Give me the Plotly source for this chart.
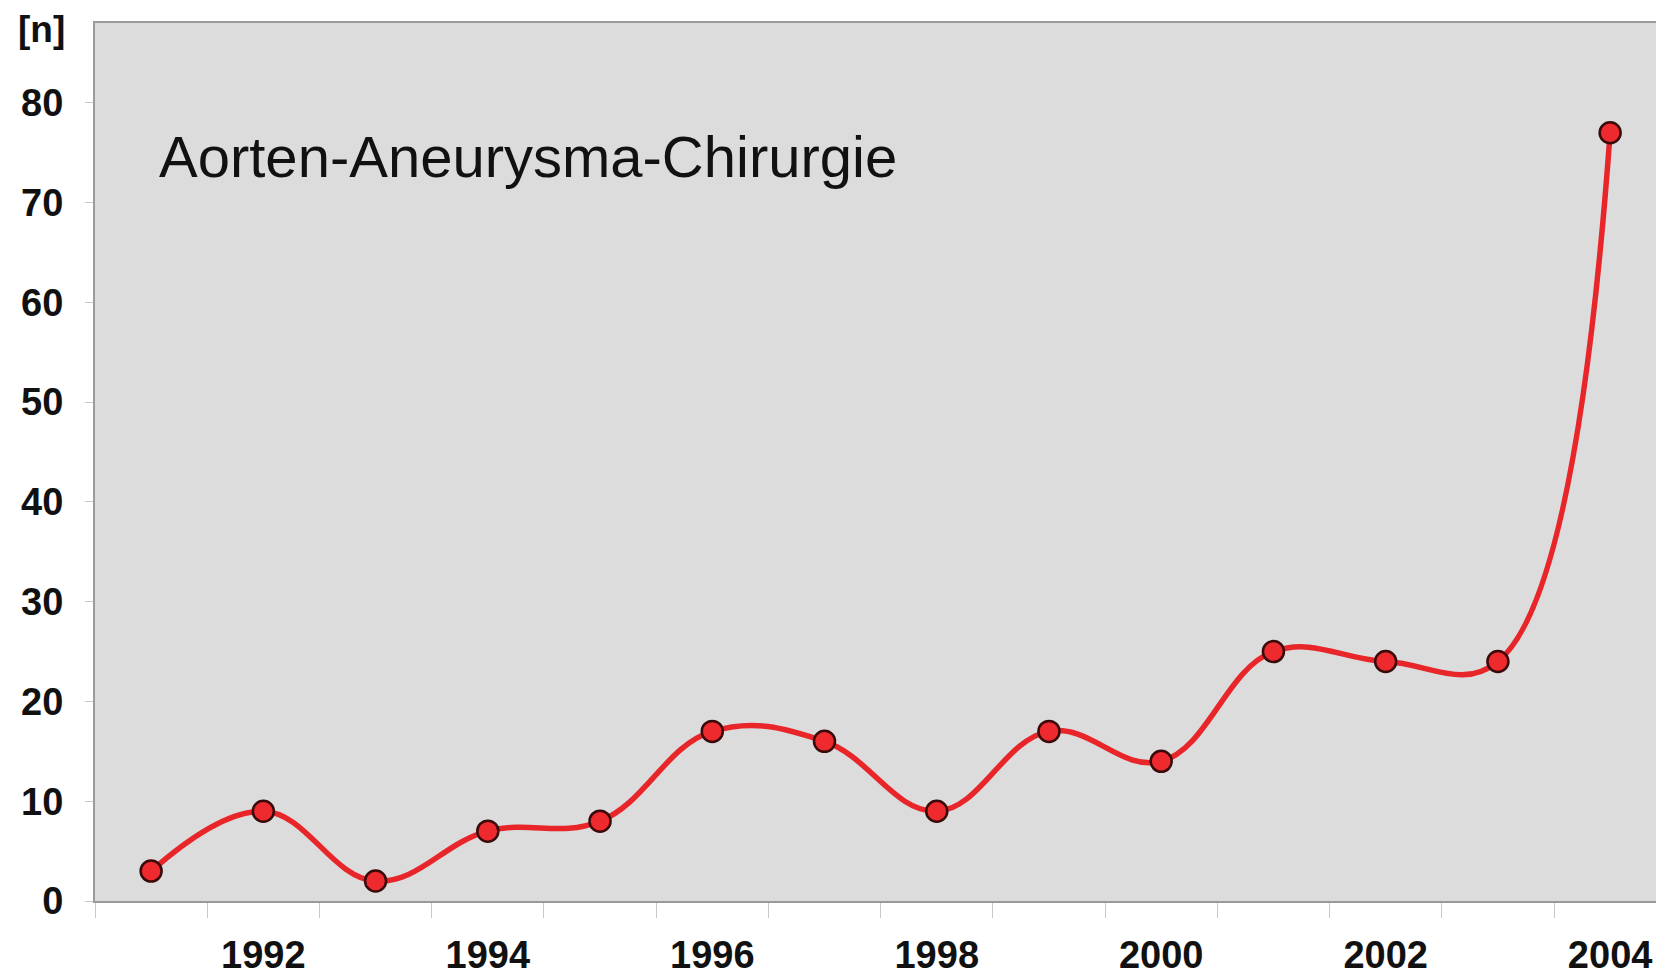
import plotly.graph_objects as go

years = [1991, 1992, 1993, 1994, 1995, 1996, 1997, 1998, 1999, 2000, 2001, 2002, 2003, 2004]
counts = [3, 9, 2, 7, 8, 17, 16, 9, 17, 14, 25, 24, 24, 77]
label_years = [1992, 1994, 1996, 1998, 2000, 2002, 2004]
y_ticks = [0, 10, 20, 30, 40, 50, 60, 70, 80]
title_text = "Aorten-Aneurysma-Chirurgie"
y_unit = "[n]"

FONT = "Liberation Sans, Arial, sans-serif"

fig = go.Figure()
fig.add_trace(go.Scatter(
    x=years, y=counts, mode="lines+markers",
    line=dict(color="#e8262a", width=5.5, shape="spline", smoothing=1.15),
    marker=dict(size=21, color="#ee2a2e", line=dict(color="#3a0a0a", width=2.5)),
    showlegend=False, cliponaxis=False,
))

fig.update_layout(
    width=1656, height=968,
    margin=dict(l=87, r=0, t=15, b=75),
    paper_bgcolor="white", plot_bgcolor="#dcdcdc",
    font=dict(family=FONT, color="#111111"),
    xaxis=dict(
        range=[1990.5, 2004.48], tickvals=label_years, ticktext=[str(v) for v in label_years],
        ticks="", showgrid=False, zeroline=False, automargin=False,
        showline=True, linecolor="#9a9a9a", linewidth=2, mirror=True,
        tickfont=dict(size=38, family=FONT, color="#111111", weight="bold"),
        ticklabelstandoff=19,
        minor=dict(tick0=1990.5, dtick=1, ticks="outside", ticklen=15, tickcolor="#c8c8c8", tickwidth=1, showgrid=False),
    ),
    yaxis=dict(
        range=[0, 88], tickvals=y_ticks, ticks="outside", ticklen=8, tickcolor="#c8c8c8",
        showgrid=False, zeroline=False, automargin=False,
        showline=True, linecolor="#9a9a9a", linewidth=2, mirror=True,
        tickfont=dict(size=38, family=FONT, color="#111111", weight="bold"),
        ticklabelstandoff=14,
    ),
    annotations=[
        dict(text=title_text, xref="paper", yref="paper", x=0.0395, y=0.848,
             xanchor="left", yanchor="middle", showarrow=False,
             font=dict(size=58, family=FONT, color="#111111")),
        dict(text=y_unit, xref="paper", yref="paper", x=-0.0344, y=0.993,
             xanchor="center", yanchor="middle", showarrow=False,
             font=dict(size=37, family=FONT, color="#111111", weight="bold")),
    ],
)

fig.write_html("out.html")
